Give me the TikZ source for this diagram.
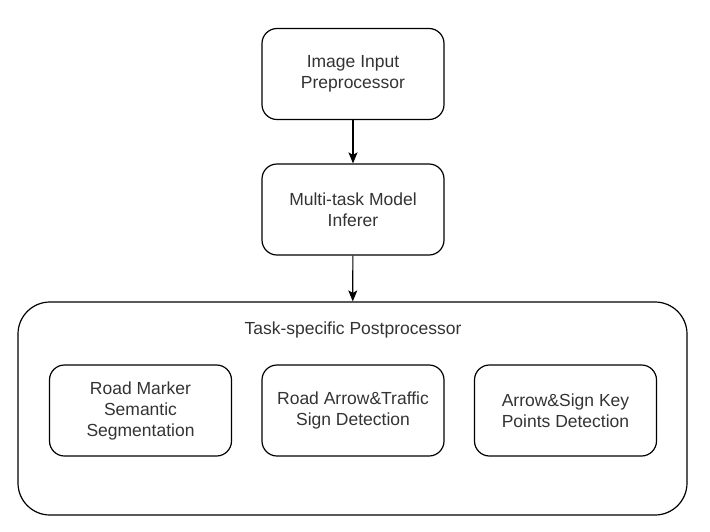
\documentclass[tikz,border=0pt]{standalone}
\usepackage{fontspec}
\setmainfont{Liberation Sans}
\usetikzlibrary{arrows.meta,positioning}
\definecolor{text-gray}{gray}{0.2}
\tikzstyle{block}=[draw,line width=1.2pt,rounded corners=15pt,minimum width=182pt,minimum height=91pt,inner sep=0pt,align=center,text=text-gray,font=\fontsize{17.5}{21}\selectfont]
\tikzstyle{bigblock}=[draw,line width=1.2pt,rounded corners=32pt,minimum width=669pt,minimum height=213pt,inner sep=0pt]
\tikzstyle{flow}=[line width=1.2pt,-{Stealth[length=11pt,width=9pt,inset=2.5pt]}]
\newcommand{\taskbox}[3]{
	\node[block] (#1) at (#2,410.5) {#3};
}

\begin{document}
\begin{tikzpicture}[x=1pt,y=-1pt]
	\useasboundingbox (0,0) rectangle (710,531);
	\node[block] (pre) at (353,74) {Image Input\\Preprocessor};
	\node[block] (infer) at (353,209.5) {Multi-task Model\\Inferer};
	\node[bigblock] (post) at (352.5,408.5) {};
	\node[text=text-gray,font=\fontsize{17.5}{21}\selectfont] (posttitle) at (353,330) {Task-specific Postprocessor};
	\taskbox{seg}{140.5}{Road Marker\\Semantic\\Segmentation}
	\taskbox{det}{353}{Road Arrow\&Traffic\\Sign Detection}
	\taskbox{kpt}{565.5}{Arrow\&Sign Key\\Points Detection}
	\draw[flow] (pre) -- (infer);
	\draw[flow] (infer) -- (post);
\end{tikzpicture}
\end{document}
